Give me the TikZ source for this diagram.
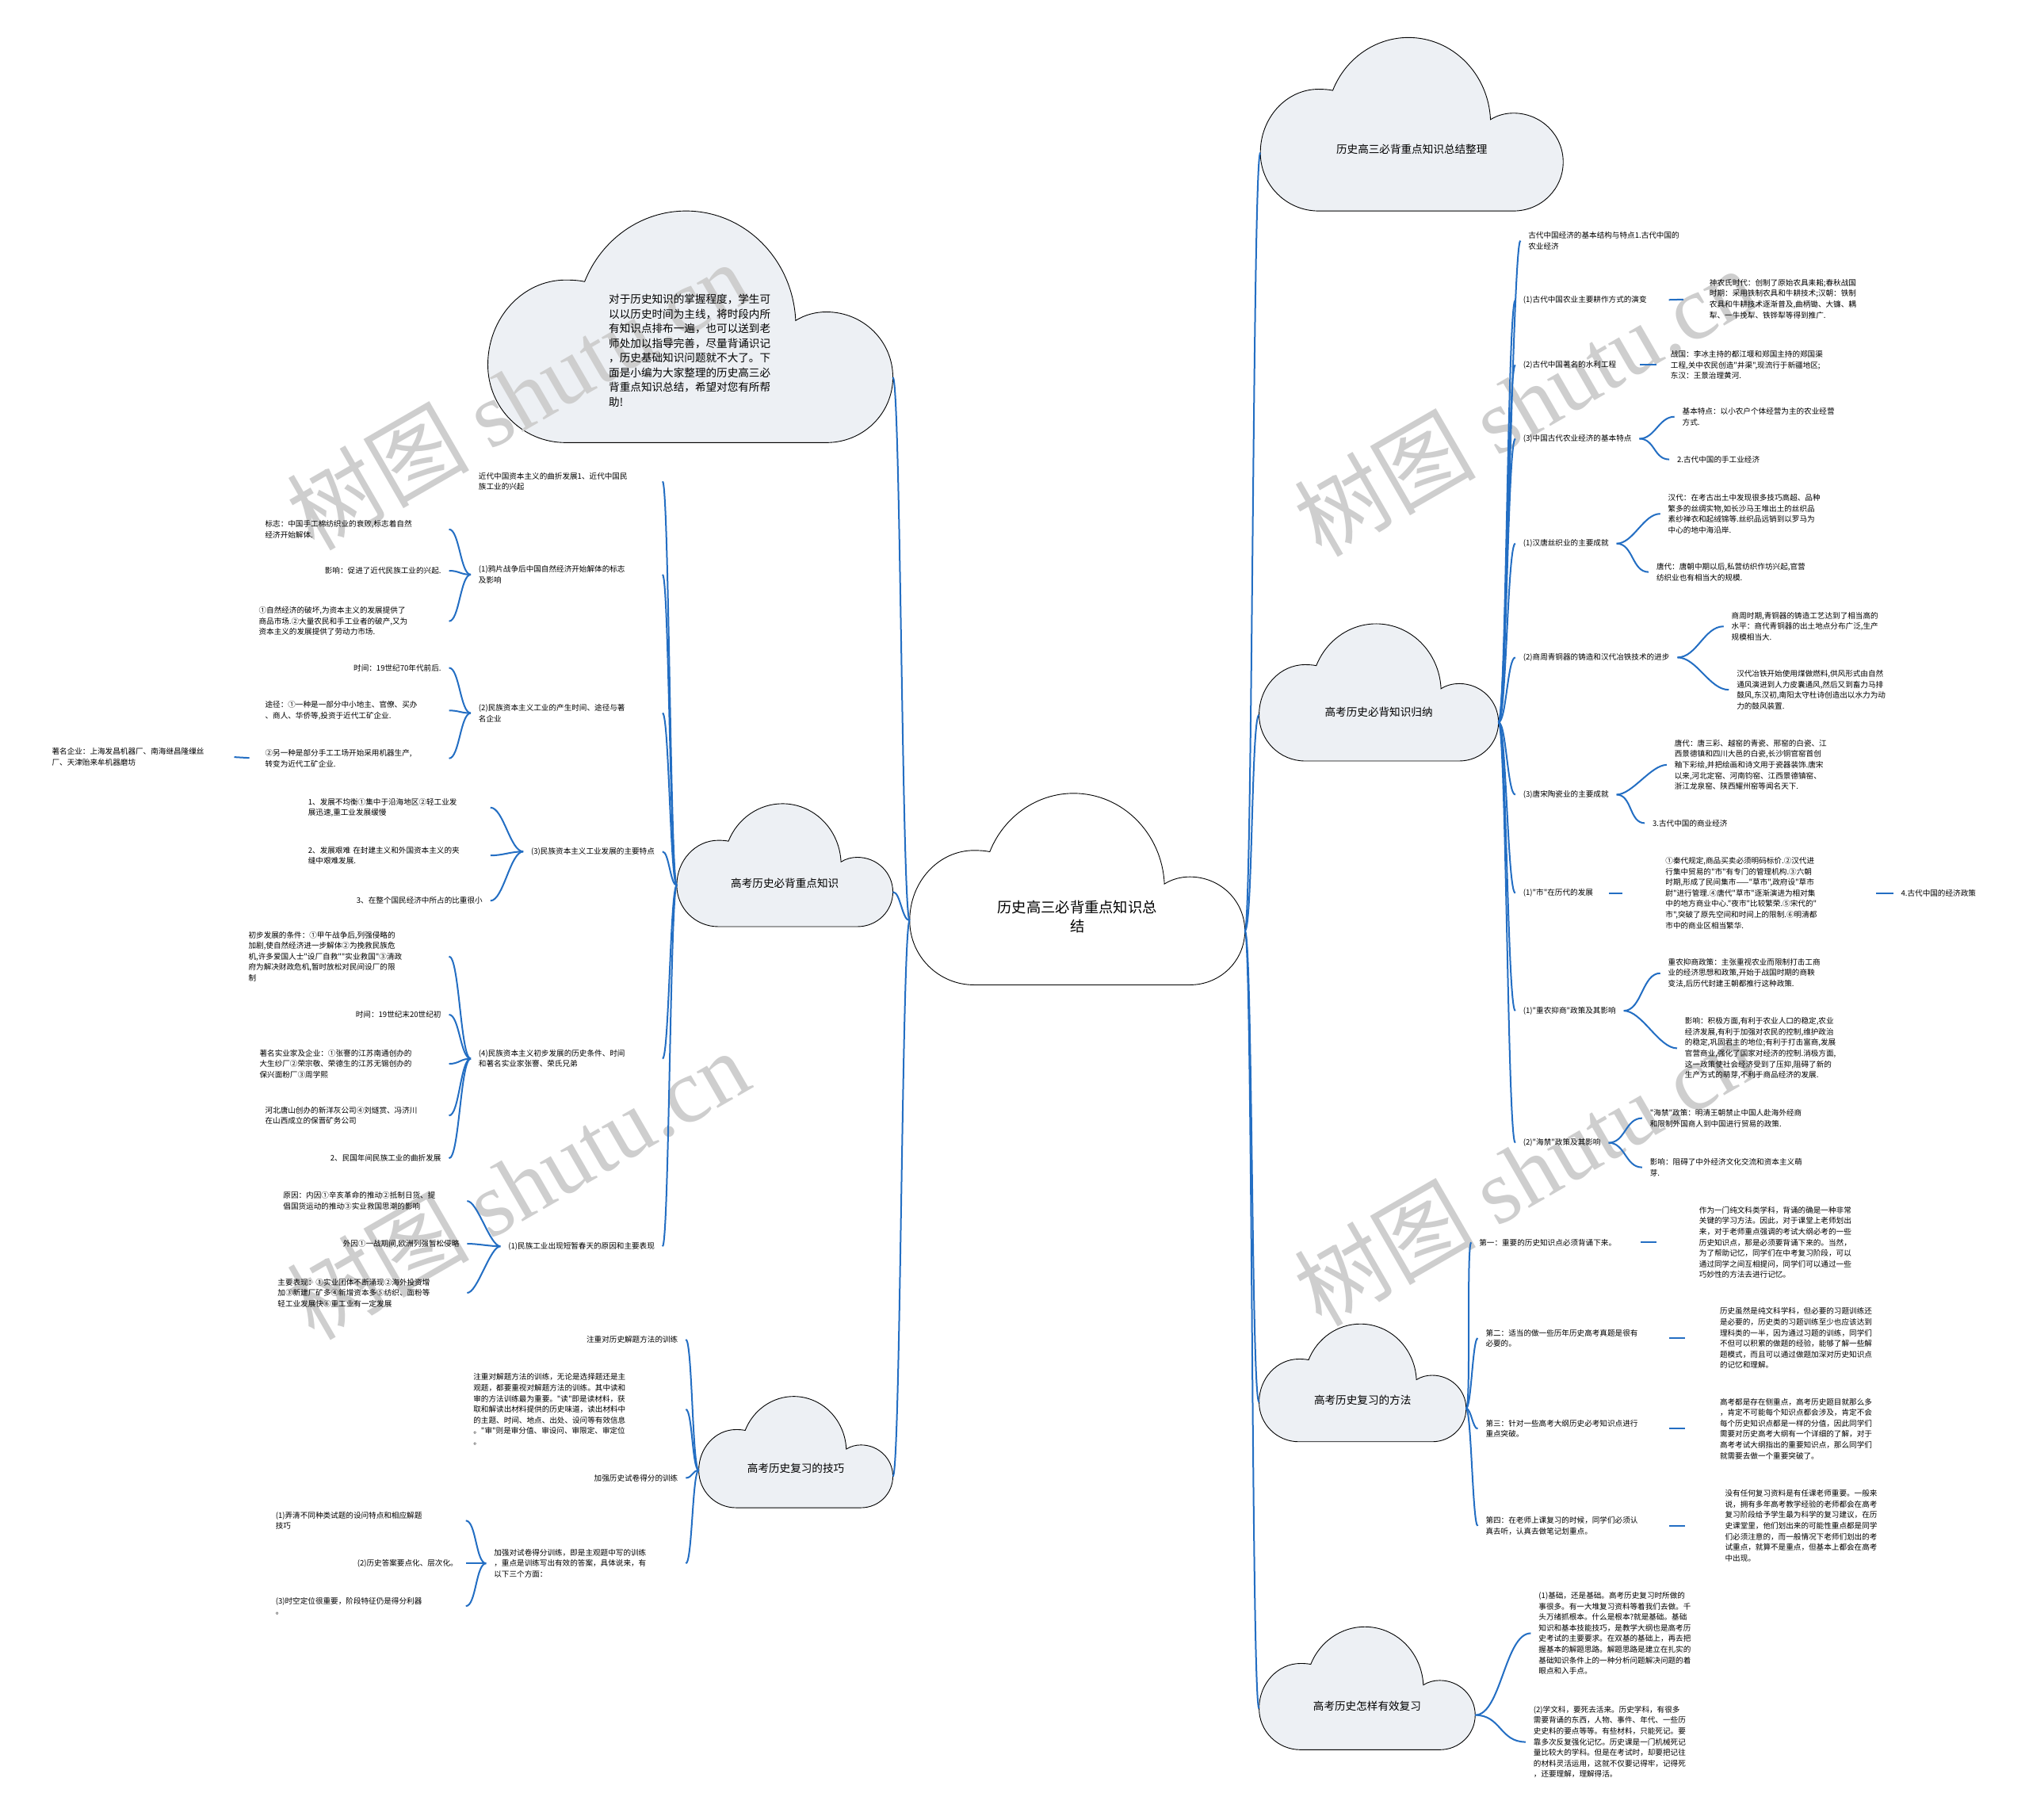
\documentclass[tikz,border=0pt]{standalone}
\usepackage{fontspec}
\newfontfamily\cjk{Noto Sans CJK SC}
\newfontfamily\wmserif{Liberation Serif}
\usetikzlibrary{calc}
\definecolor{linkblue}{RGB}{35,110,195}
\definecolor{cloudfill}{RGB}{237,240,244}
\definecolor{wmgray}{RGB}{206,206,206}
\newcommand{\leaftxt}{\cjk\fontsize{9.6pt}{13.6pt}\selectfont}
\newcommand{\cloudtxt}{\cjk\fontsize{13.6pt}{18.5pt}\selectfont}
\newcommand{\roottxt}{\cjk\fontsize{18.3pt}{24.5pt}\selectfont}
% cloud outline: x, y, width, height, fill, name
\newcommand{\drawcloud}[6]{%
  \filldraw[cloudline,fill=#5,shift={(#1,#2)},xscale=#3,yscale=#4]
    (0.192,1) .. controls (0.086,1) and (0,0.850) .. (0,0.664)
    .. controls (0,0.462) and (0.086,0.298) .. (0.192,0.298)
    .. controls (0.210,0.298) and (0.226,0.300) .. (0.239,0.305)
    .. controls (0.281,0.120) and (0.380,0) .. (0.489,0)
    .. controls (0.634,0) and (0.753,0.208) .. (0.760,0.473)
    .. controls (0.784,0.447) and (0.810,0.436) .. (0.836,0.436)
    .. controls (0.927,0.436) and (1,0.562) .. (1,0.718)
    .. controls (1,0.874) and (0.927,1) .. (0.836,1) -- cycle;
  \coordinate (#6-w) at (#1,{#2+0.664*#4});
  \coordinate (#6-e) at ({#1+#3},{#2+0.718*#4});
  \coordinate (#6-c) at ({#1+0.5*#3},{#2+0.645*#4});
}
\tikzset{
  leaf/.style={font=\leaftxt,inner xsep=9.8pt,inner ysep=1pt,align=left},
  cloudlabel/.style={font=\cloudtxt,inner sep=1pt,align=center},
  cloudline/.style={draw=black,line width=0.9pt},
  link/.style={draw=linkblue,line width=2pt},
  wm/.style={text=wmgray,font=\cjk\fontsize{115pt}{115pt}\selectfont,rotate=30,inner sep=0pt}
}

\begin{document}
\begin{tikzpicture}[x=1.633pt,y=-1.633pt]
\useasboundingbox (0,0) rectangle (1568,1406);
\fill[white] (0,0) rectangle (1568,1406);
% clouds
\drawcloud{974}{29}{234}{134}{cloudfill}{ktop}
\drawcloud{377}{163}{313}{179}{cloudfill}{kintro}
\drawcloud{703}{613}{259}{148}{white}{kroot}
\drawcloud{523}{621}{167}{95}{cloudfill}{kmust}
\drawcloud{540}{1079}{150}{86}{cloudfill}{kskill}
\drawcloud{973}{482}{185}{106}{cloudfill}{kinduct}
\drawcloud{973}{1023}{160}{91}{cloudfill}{kmethod}
\drawcloud{973}{1257}{167}{95}{cloudfill}{kreview}
% watermarks
\node[wm] (wm1) at (400,305) {树图 {\wmserif shutu.cn}};
\node[wm] (wm2) at (400,915) {树图 {\wmserif shutu.cn}};
\node[wm] (wm3) at (1178,310) {树图 {\wmserif shutu.cn}};
\node[wm] (wm4) at (1178,905) {树图 {\wmserif shutu.cn}};
% cloud labels
\node[font=\roottxt,align=center] (root) at (kroot-c) {历史高三必背重点知识总\\结};
\node[cloudlabel] (sumtitle) at (ktop-c) {历史高三必背重点知识总结整理};
\node[font=\cloudtxt,align=left] (intro) at (533,271) {对于历史知识的掌握程度，学生可\\以以历史时间为主线，将时段内所\\有知识点排布一遍，也可以送到老\\师处加以指导完善，尽量背诵识记\\，历史基础知识问题就不大了。下\\面是小编为大家整理的历史高三必\\背重点知识总结，希望对您有所帮\\助!};
\node[cloudlabel] (mustknow) at (kmust-c) {高考历史必背重点知识};
\node[cloudlabel] (skills) at (kskill-c) {高考历史复习的技巧};
\node[cloudlabel] (induct) at (kinduct-c) {高考历史必背知识归纳};
\node[cloudlabel] (methods) at (kmethod-c) {高考历史复习的方法};
\node[cloudlabel] (review) at (kreview-c) {高考历史怎样有效复习};

% left: modern national industry
\node[leaf,anchor=east,text width=222pt] (n1) at (512,372) {近代中国资本主义的曲折发展1、近代中国民\\族工业的兴起};
\node[leaf,anchor=east,text width=222pt] (n2) at (512,444) {(1)鸦片战争后中国自然经济开始解体的标志\\及影响};
\node[leaf,anchor=east,text width=222pt] (n3) at (512,551) {(2)民族资本主义工业的产生时间、途径与著\\名企业};
\node[leaf,anchor=east] (n4) at (512,658) {(3)民族资本主义工业发展的主要特点};
\node[leaf,anchor=east,text width=222pt] (n5) at (512,818) {(4)民族资本主义初步发展的历史条件、时间\\和著名实业家张謇、荣氏兄弟};
\node[leaf,anchor=east] (n6) at (512,963) {(1)民族工业出现短暂春天的原因和主要表现};

\node[leaf,anchor=east,text width=222pt] (n2a) at (347,409) {标志：中国手工棉纺织业的衰败,标志着自然\\经济开始解体.};
\node[leaf,anchor=east] (n2b) at (347,441) {影响：促进了近代民族工业的兴起.};
\node[leaf,anchor=east,text width=230pt] (n2c) at (347,480) {①自然经济的破坏,为资本主义的发展提供了\\商品市场.②大量农民和手工业者的破产,又为\\资本主义的发展提供了劳动力市场.};

\node[leaf,anchor=east] (n3a) at (347,516) {时间：19世纪70年代前后.};
\node[leaf,anchor=east,text width=222pt] (n3b) at (347,549) {途径：①一种是一部分中小地主、官僚、买办\\、商人、华侨等,投资于近代工矿企业.};
\node[leaf,anchor=east,text width=222pt] (n3c) at (347,586) {②另一种是部分手工工场开始采用机器生产,\\转变为近代工矿企业.};
\node[leaf,anchor=east,text width=220pt] (n3d) at (181,585) {著名企业：上海发昌机器厂、南海继昌隆缫丝\\厂、天津贻来牟机器磨坊};

\node[leaf,anchor=east,text width=220pt] (n4a) at (379,624) {1、发展不均衡①集中于沿海地区②轻工业发\\展迅速,重工业发展缓慢};
\node[leaf,anchor=east,text width=220pt] (n4b) at (379,661) {2、发展艰难 在封建主义和外国资本主义的夹\\缝中艰难发展.};
\node[leaf,anchor=east] (n4c) at (379,696) {3、在整个国民经济中所占的比重很小};

\node[leaf,anchor=east,text width=243pt] (n5a) at (347,739) {初步发展的条件：①甲午战争后,列强侵略的\\加剧,使自然经济进一步解体②为挽救民族危\\机,许多爱国人士"设厂自救""实业救国"③清政\\府为解决财政危机,暂时放松对民间设厂的限\\制};
\node[leaf,anchor=east] (n5b) at (347,784) {时间：19世纪末20世纪初};
\node[leaf,anchor=east,text width=229pt] (n5c) at (347,822) {著名实业家及企业：①张謇的江苏南通创办的\\大生纱厂②荣宗敬、荣德生的江苏无锡创办的\\保兴面粉厂③周学熙};
\node[leaf,anchor=east,text width=222pt] (n5d) at (347,862) {河北唐山创办的新洋灰公司④刘燧赏、冯济川\\在山西成立的保晋矿务公司};
\node[leaf,anchor=east] (n5e) at (347,895) {2、民国年间民族工业的曲折发展};

\node[leaf,anchor=east,text width=222pt] (n6a) at (361,928) {原因：内因①辛亥革命的推动②抵制日货、提\\倡国货运动的推动③实业救国思潮的影响};
\node[leaf,anchor=east] (n6b) at (361,961) {外因①一战期间,欧洲列强暂松侵略};
\node[leaf,anchor=east,text width=229pt] (n6c) at (361,999) {主要表现：①实业团体不断涌现②海外投资增\\加③新建厂矿多④新增资本多⑤纺织、面粉等\\轻工业发展快⑥重工业有一定发展};

% left: review skills
\node[leaf,anchor=east] (m1) at (530,1035) {注重对历史解题方法的训练};
\node[leaf,anchor=east,text width=258pt] (m2) at (530,1089) {注重对解题方法的训练，无论是选择题还是主\\观题，都要重视对解题方法的训练。其中读和\\审的方法训练最为重要。"读"即是读材料，获\\取和解读出材料提供的历史味道，读出材料中\\的主题、时间、地点、出处、设问等有效信息\\。"审"则是审分值、审设问、审限定、审定位\\。};
\node[leaf,anchor=east] (m3) at (530,1142) {加强历史试卷得分的训练};
\node[leaf,anchor=east,text width=232pt] (m4) at (530,1208) {加强对试卷得分训练，即是主观题中写的训练\\，重点是训练写出有效的答案，具体说来，有\\以下三个方面：};
\node[leaf,anchor=east,text width=230pt] (m4a) at (360,1175) {(1)弄清不同种类试题的设问特点和相应解题\\技巧};
\node[leaf,anchor=east] (m4b) at (360,1208) {(2)历史答案要点化、层次化。};
\node[leaf,anchor=east,text width=230pt] (m4c) at (360,1241) {(3)时空定位很重要，阶段特征仍是得分利器\\。};

% right: ancient economy
\node[leaf,anchor=west] (r1) at (1175,186) {古代中国经济的基本结构与特点1.古代中国的\\农业经济};
\node[leaf,anchor=west] (r2) at (1171,232) {(1)古代中国农业主要耕作方式的演变};
\node[leaf,anchor=west] (r3) at (1171,282) {(2)古代中国著名的水利工程};
\node[leaf,anchor=west] (r4) at (1171,339) {(3)中国古代农业经济的基本特点};
\node[leaf,anchor=west] (r5) at (1171,420) {(1)汉唐丝织业的主要成就};
\node[leaf,anchor=west] (r6) at (1171,508) {(2)商周青铜器的铸造和汉代冶铁技术的进步};
\node[leaf,anchor=west] (r7) at (1171,614) {(3)唐宋陶瓷业的主要成就};
\node[leaf,anchor=west] (r8) at (1171,690) {(1)"市"在历代的发展};
\node[leaf,anchor=west] (r9) at (1171,781) {(1)"重农抑商"政策及其影响};
\node[leaf,anchor=west] (r10) at (1171,883) {(2)"海禁"政策及其影响};

\node[leaf,anchor=west] (r2a) at (1315,231) {神农氏时代：创制了原始农具耒耜;春秋战国\\时期：采用铁制农具和牛耕技术;汉朝：铁制\\农具和牛耕技术逐渐普及,曲柄锄、大镰、耦\\犁、一牛挽犁、铁铧犁等得到推广.};
\node[leaf,anchor=west] (r3a) at (1285,282) {战国：李冰主持的都江堰和郑国主持的郑国渠\\工程,关中农民创造"井渠",现流行于新疆地区;\\东汉：王景治理黄河.};
\node[leaf,anchor=west] (r4a) at (1294,322) {基本特点：以小农户个体经营为主的农业经营\\方式.};
\node[leaf,anchor=west] (r4b) at (1290,355) {2.古代中国的手工业经济};
\node[leaf,anchor=west] (r5a) at (1283,397) {汉代：在考古出土中发现很多技巧高超、品种\\繁多的丝绸实物,如长沙马王堆出土的丝织品\\素纱禅衣和起绒锦等.丝织品远销到以罗马为\\中心的地中海沿岸.};
\node[leaf,anchor=west] (r5b) at (1274,442) {唐代：唐朝中期以后,私营纺织作坊兴起,官营\\纺织业也有相当大的规模.};
\node[leaf,anchor=west] (r6a) at (1332,484) {商周时期,青铜器的铸造工艺达到了相当高的\\水平：商代青铜器的出土地点分布广泛,生产\\规模相当大.};
\node[leaf,anchor=west] (r6b) at (1336,533) {汉代冶铁开始使用煤做燃料,供风形式由自然\\通风演进到人力皮囊通风,然后又到畜力马排\\鼓风,东汉初,南阳太守杜诗创造出以水力为动\\力的鼓风装置.};
\node[leaf,anchor=west] (r7a) at (1288,591) {唐代：唐三彩、越窑的青瓷、邢窑的白瓷、江\\西景德镇和四川大邑的白瓷,长沙铜官窑首创\\釉下彩绘,并把绘画和诗文用于瓷器装饰.唐宋\\以来,河北定窑、河南钧窑、江西景德镇窑、\\浙江龙泉窑、陕西耀州窑等闻名天下.};
\node[leaf,anchor=west] (r7b) at (1271,636) {3.古代中国的商业经济};
\node[leaf,anchor=west,text width=256pt] (r8a) at (1281,690) {①秦代规定,商品买卖必须明码标价.②汉代进\\行集中贸易的"市"有专门的管理机构.③六朝\\时期,形成了民间集市——"草市",政府设"草市\\尉"进行管理.④唐代"草市"逐渐演进为相对集\\中的地方商业中心."夜市"比较繁荣.⑤宋代的"\\市",突破了原先空间和时间上的限制.⑥明清都\\市中的商业区相当繁华.};
\node[leaf,anchor=west] (r8b) at (1463,690) {4.古代中国的经济政策};
\node[leaf,anchor=west] (r9a) at (1283,752) {重农抑商政策：主张重视农业而限制打击工商\\业的经济思想和政策,开始于战国时期的商鞅\\变法,后历代封建王朝都推行这种政策.};
\node[leaf,anchor=west] (r9b) at (1296,810) {影响：积极方面,有利于农业人口的稳定,农业\\经济发展,有利于加强对农民的控制,维护政治\\的稳定,巩固君主的地位;有利于打击富商,发展\\官营商业,强化了国家对经济的控制.消极方面,\\这一政策使社会经济受到了压抑,阻碍了新的\\生产方式的萌芽,不利于商品经济的发展.};
\node[leaf,anchor=west] (r10a) at (1269,864) {"海禁"政策：明清王朝禁止中国人赴海外经商\\和限制外国商人到中国进行贸易的政策.};
\node[leaf,anchor=west] (r10b) at (1269,902) {影响：阻碍了中外经济文化交流和资本主义萌\\芽.};

% right: review methods
\node[leaf,anchor=west] (s1) at (1137,960) {第一：重要的历史知识点必须背诵下来。};
\node[leaf,anchor=west,text width=222pt] (s2) at (1142,1034) {第二：适当的做一些历年历史高考真题是很有\\必要的。};
\node[leaf,anchor=west,text width=222pt] (s3) at (1142,1104) {第三：针对一些高考大纲历史必考知识点进行\\重点突破。};
\node[leaf,anchor=west,text width=222pt] (s4) at (1142,1179) {第四：在老师上课复习的时候，同学们必须认\\真去听，认真去做笔记划重点。};
\node[leaf,anchor=west] (s1a) at (1307,960) {作为一门纯文科类学科，背诵的确是一种非常\\关键的学习方法。因此，对于课堂上老师划出\\来，对于老师重点强调的考试大纲必考的一些\\历史知识点，那是必须要背诵下来的。当然，\\为了帮助记忆，同学们在中考复习阶段，可以\\通过同学之间互相提问，同学们可以通过一些\\巧妙性的方法去进行记忆。};
\node[leaf,anchor=west] (s2a) at (1323,1034) {历史虽然是纯文科学科，但必要的习题训练还\\是必要的，历史类的习题训练至少也应该达到\\理科类的一半，因为通过习题的训练，同学们\\不但可以积累的做题的经验，能够了解一些解\\题模式，而且可以通过做题加深对历史知识点\\的记忆和理解。};
\node[leaf,anchor=west] (s3a) at (1323,1104) {高考都是存在侧重点，高考历史题目就那么多\\，肯定不可能每个知识点都会涉及，肯定不会\\每个历史知识点都是一样的分值，因此同学们\\需要对历史高考大纲有一个详细的了解，对于\\高考考试大纲指出的重要知识点，那么同学们\\就需要去做一个重要突破了。};
\node[leaf,anchor=west] (s4a) at (1327,1179) {没有任何复习资料是有任课老师重要。一般来\\说，拥有多年高考教学经验的老师都会在高考\\复习阶段给予学生最为科学的复习建议，在历\\史课堂里，他们划出来的可能性重点都是同学\\们必须注意的，而一般情况下老师们划出的考\\试重点，就算不是重点，但基本上都会在高考\\中出现。};

% right: effective review
\node[leaf,anchor=west] (t1) at (1183,1262) {(1)基础，还是基础。高考历史复习时所做的\\事很多。有一大堆复习资料等着我们去做。千\\头万绪抓根本。什么是根本?就是基础。基础\\知识和基本技能技巧，是教学大纲也是高考历\\史考试的主要要求。在双基的基础上，再去把\\握基本的解题思路。解题思路是建立在扎实的\\基础知识条件上的一种分析问题解决问题的着\\眼点和入手点。};
\node[leaf,anchor=west] (t2) at (1179,1346) {(2)学文科，要死去活来。历史学科，有很多\\需要背诵的东西，人物、事件、年代、一些历\\史史料的要点等等。有些材料，只能死记。要\\靠多次反复强化记忆。历史课是一门机械死记\\量比较大的学科。但是在考试时，却要把记往\\的材料灵活运用，这就不仅要记得牢，记得死\\，还要理解，理解得活。};

% connectors
\foreach \kid in {ktop,kinduct,kmethod,kreview}
  \draw[link] (kroot-e) .. controls +(6,0) and +(-6,0) .. (\kid-w);
\foreach \kid in {kintro,kmust,kskill}
  \draw[link] (kroot-w) .. controls +(-6,0) and +(6,0) .. (\kid-e);
\foreach \kid in {n1,n2,n3,n4,n5,n6}
  \draw[link] (kmust-w) .. controls +(-5,0) and +(5,0) .. (\kid.east);
\foreach \kid in {n2a,n2b,n2c}
  \draw[link] (n2.west) .. controls +(-8,0) and +(8,0) .. (\kid.east);
\foreach \kid in {n3a,n3b,n3c}
  \draw[link] (n3.west) .. controls +(-8,0) and +(8,0) .. (\kid.east);
\draw[link,shorten <=10pt] (n3c.west) -- (n3d.east);
\foreach \kid in {n4a,n4b,n4c}
  \draw[link] (n4.west) .. controls +(-10,0) and +(10,0) .. (\kid.east);
\foreach \kid in {n5a,n5b,n5c,n5d,n5e}
  \draw[link] (n5.west) .. controls +(-8,0) and +(8,0) .. (\kid.east);
\foreach \kid in {n6a,n6b,n6c}
  \draw[link] (n6.west) .. controls +(-8,0) and +(8,0) .. (\kid.east);
\foreach \kid in {m1,m2,m3,m4}
  \draw[link] (kskill-w) .. controls +(-5,0) and +(5,0) .. (\kid.east);
\foreach \kid in {m4a,m4b,m4c}
  \draw[link] (m4.west) .. controls +(-8,0) and +(8,0) .. (\kid.east);
\foreach \kid in {r1,r2,r3,r4,r5,r6,r7,r8,r9,r10}
  \draw[link] (kinduct-e) .. controls +(6,0) and +(-6,0) .. (\kid.west);
\draw[link,shorten <=18pt,shorten >=23pt] (r2.east) -- (r2a.west);
\draw[link,shorten <=20pt,shorten >=8pt] (r3.east) -- (r3a.west);
\foreach \kid in {r4a,r4b}
  \draw[link] (r4.east) .. controls +(12,0) and +(-12,0) .. (\kid.west);
\foreach \kid in {r5a,r5b}
  \draw[link] (r5.east) .. controls +(13,0) and +(-13,0) .. (\kid.west);
\foreach \kid in {r6a,r6b}
  \draw[link] (r6.east) .. controls +(15,0) and +(-15,0) .. (\kid.west);
\foreach \kid in {r7a,r7b}
  \draw[link] (r7.east) .. controls +(12,0) and +(-12,0) .. (\kid.west);
\draw[link,shorten <=10pt,shorten >=44pt] (r8.east) -- (r8a.west);
\draw[link] (r8a.east) -- (r8b.west);
\foreach \kid in {r9a,r9b}
  \draw[link] (r9.east) .. controls +(14,0) and +(-14,0) .. (\kid.west);
\foreach \kid in {r10a,r10b}
  \draw[link] (r10.east) .. controls +(13,0) and +(-13,0) .. (\kid.west);
\foreach \kid in {s1,s2,s3,s4}
  \draw[link] (kmethod-e) .. controls +(4,0) and +(-4,0) .. (\kid.west);
\draw[link,shorten <=21pt,shorten >=44pt] (s1.east) -- (s1a.west);
\draw[link,shorten >=34pt] (s2.east) -- (s2a.west);
\draw[link,shorten >=34pt] (s3.east) -- (s3a.west);
\draw[link,shorten >=41pt] (s4.east) -- (s4a.west);
\foreach \kid in {t1,t2}
  \draw[link] (kreview-e) .. controls +(20,0) and +(-20,0) .. (\kid.west);
\end{tikzpicture}
\end{document}
